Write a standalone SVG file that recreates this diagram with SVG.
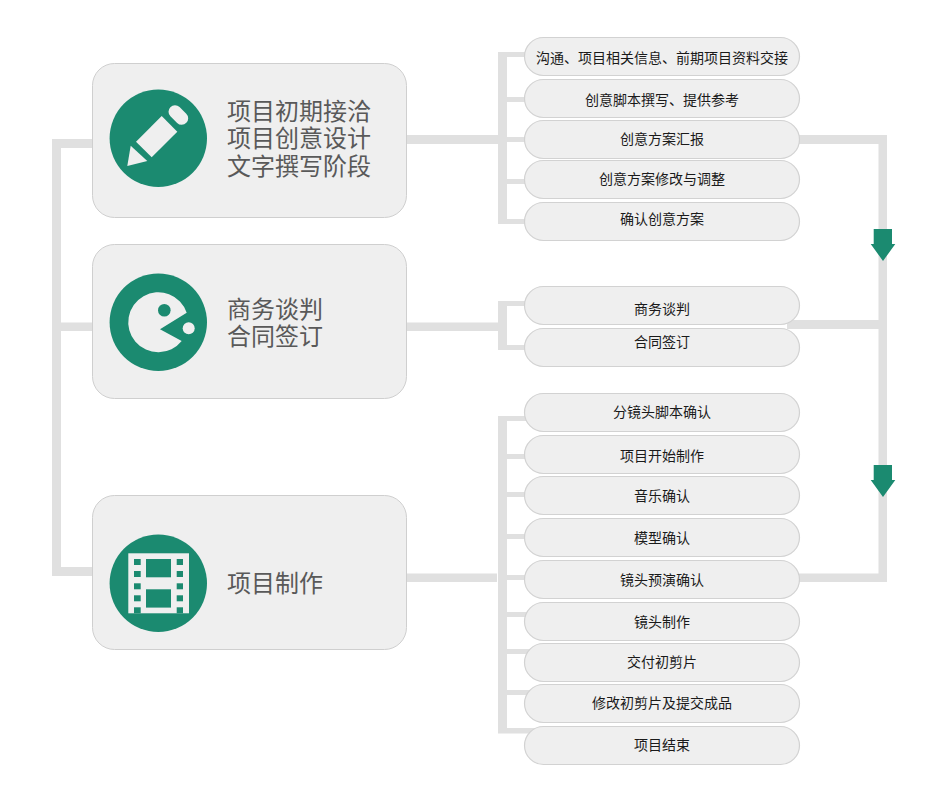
<svg xmlns="http://www.w3.org/2000/svg" width="947" height="803" viewBox="0 0 947 803">
<style>
.bar{fill:#e0e0e0}
.box{fill:#efefef;stroke:#cfcfcf;stroke-width:1}
.pill{fill:#efefef;stroke:#d2d2d2;stroke-width:1.2}
.big{font-family:"Noto Sans CJK SC","Liberation Sans",sans-serif;font-size:24px;fill:#595959}
.small{font-family:"Noto Sans CJK SC","Liberation Sans",sans-serif;font-size:14px;fill:#1a1a1a;text-anchor:middle}
.g{fill:#1b8a70}
.w{fill:#efefef}
</style>
<rect width="947" height="803" fill="#fff"/>
<g id="connectors">
<path class="bar" d="M52 139H92V148H61V322.500H92V331H61V567H92V576H52Z"/>
<rect class="bar" x="406" y="135" width="92" height="9"/>
<path class="bar" d="M498 52H530V57H507V97H530V102H507V137H530V142H507V179H530V184H507V219H530V224H498Z"/>
<rect class="bar" x="406" y="322.500" width="92" height="8.500"/>
<path class="bar" d="M498 301H530V306H507V345H530V350H498Z"/>
<rect class="bar" x="406" y="573.500" width="91" height="8.500"/>
<path class="bar" d="M498 416H530V421H507V454H530V459H507V492H530V497H507V534H530V539H507V575H530V580H507V612H530V617H507V649H530V654H507V690H530V695H507V728H535V733.500H498Z"/>
<path class="bar" d="M795 135H887V582H795V573.500H878.500V329H787V320H878.500V144H795Z"/>
</g>
<g id="node-1">
<rect class="box" x="92.500" y="63.500" width="314" height="154" rx="22"/>
<circle class="g" cx="158.300" cy="138.300" r="48.700"/>
<polygon class="w" points="161.700,116 177.300,131.700 151.700,157.300 136,141.700"/>
<polygon class="w" points="130.700,145.700 147.300,161 127.300,166"/>
<line x1="175" y1="111.700" x2="181.700" y2="118.300" stroke="#efefef" stroke-width="13" stroke-linecap="round"/>
<text class="big" x="227" y="119.500">项目初期接洽<tspan x="227" dy="27.500">项目创意设计</tspan><tspan x="227" dy="27.500">文字撰写阶段</tspan></text>
</g>
<g id="node-2">
<rect class="box" x="92.500" y="244.500" width="314" height="154" rx="22"/>
<circle class="g" cx="158.300" cy="322.300" r="48.700"/>
<path class="w" d="M160 329.300L186.700 312.700A30 30 0 1 0 181.700 341Z"/>
<circle class="g" cx="164.300" cy="310.300" r="6.300"/>
<circle class="w" cx="188.700" cy="328.300" r="6"/>
<text class="big" x="227" y="317.500">商务谈判<tspan x="227" dy="27.500">合同签订</tspan></text>
</g>
<g id="node-3">
<rect class="box" x="92.500" y="495.500" width="314" height="154" rx="22"/>
<circle class="g" cx="158.300" cy="583.300" r="48.700"/>
<rect class="w" x="128.300" y="553.300" width="60.700" height="60"/>
<g class="g">
<rect x="134" y="559" width="6.700" height="6"/><rect x="134" y="571" width="6.700" height="6"/><rect x="134" y="583.300" width="6.700" height="6"/><rect x="134" y="595.300" width="6.700" height="6"/><rect x="134" y="607.300" width="6.700" height="6"/>
<rect x="176.700" y="559" width="6.300" height="6"/><rect x="176.700" y="571" width="6.300" height="6"/><rect x="176.700" y="583.300" width="6.300" height="6"/><rect x="176.700" y="595.300" width="6.300" height="6"/><rect x="176.700" y="607.300" width="6.300" height="6"/>
<rect x="146" y="559" width="25" height="18.300"/><rect x="146" y="589.300" width="25" height="18.300"/>
</g>
<text class="big" x="227" y="592">项目制作</text>
</g>
<g id="step-1"><rect class="pill" x="524.500" y="37.500" width="275" height="38" rx="19"/><text class="small" x="662" y="63">沟通、项目相关信息、前期项目资料交接</text></g>
<g id="step-2"><rect class="pill" x="524.500" y="79.500" width="275" height="38" rx="19"/><text class="small" x="662" y="105">创意脚本撰写、提供参考</text></g>
<g id="step-3"><rect class="pill" x="524.500" y="120.500" width="275" height="38" rx="19"/><text class="small" x="662" y="144">创意方案汇报</text></g>
<g id="step-4"><rect class="pill" x="524.500" y="160.500" width="275" height="38" rx="19"/><text class="small" x="662" y="184">创意方案修改与调整</text></g>
<g id="step-5"><rect class="pill" x="524.500" y="202.500" width="275" height="38" rx="19"/><text class="small" x="662" y="224">确认创意方案</text></g>
<g id="step-6"><rect class="pill" x="524.500" y="286.500" width="275" height="38" rx="19"/><text class="small" x="662" y="314">商务谈判</text></g>
<g id="step-7"><rect class="pill" x="524.500" y="328.500" width="275" height="38" rx="19"/><text class="small" x="662" y="347">合同签订</text></g>
<g id="step-8"><rect class="pill" x="524.500" y="393.500" width="275" height="38" rx="19"/><text class="small" x="662" y="417">分镜头脚本确认</text></g>
<g id="step-9"><rect class="pill" x="524.500" y="435.500" width="275" height="38" rx="19"/><text class="small" x="662" y="461">项目开始制作</text></g>
<g id="step-10"><rect class="pill" x="524.500" y="476.500" width="275" height="38" rx="19"/><text class="small" x="662" y="501">音乐确认</text></g>
<g id="step-11"><rect class="pill" x="524.500" y="518.500" width="275" height="38" rx="19"/><text class="small" x="662" y="543">模型确认</text></g>
<g id="step-12"><rect class="pill" x="524.500" y="560.500" width="275" height="38" rx="19"/><text class="small" x="662" y="585">镜头预演确认</text></g>
<g id="step-13"><rect class="pill" x="524.500" y="602.500" width="275" height="38" rx="19"/><text class="small" x="662" y="627">镜头制作</text></g>
<g id="step-14"><rect class="pill" x="524.500" y="643.500" width="275" height="38" rx="19"/><text class="small" x="662" y="667">交付初剪片</text></g>
<g id="step-15"><rect class="pill" x="524.500" y="684.500" width="275" height="38" rx="19"/><text class="small" x="662" y="708">修改初剪片及提交成品</text></g>
<g id="step-16"><rect class="pill" x="524.500" y="726.500" width="275" height="38" rx="19"/><text class="small" x="662" y="750">项目结束</text></g>
<g id="arrows">
<polygon class="g" points="873.700,229 892,229 892,244 895.300,244 883,261 870.700,244 873.700,244"/>
<polygon class="g" points="873.700,465 892,465 892,480 895.300,480 883,497 870.700,480 873.700,480"/>
</g>
</svg>
